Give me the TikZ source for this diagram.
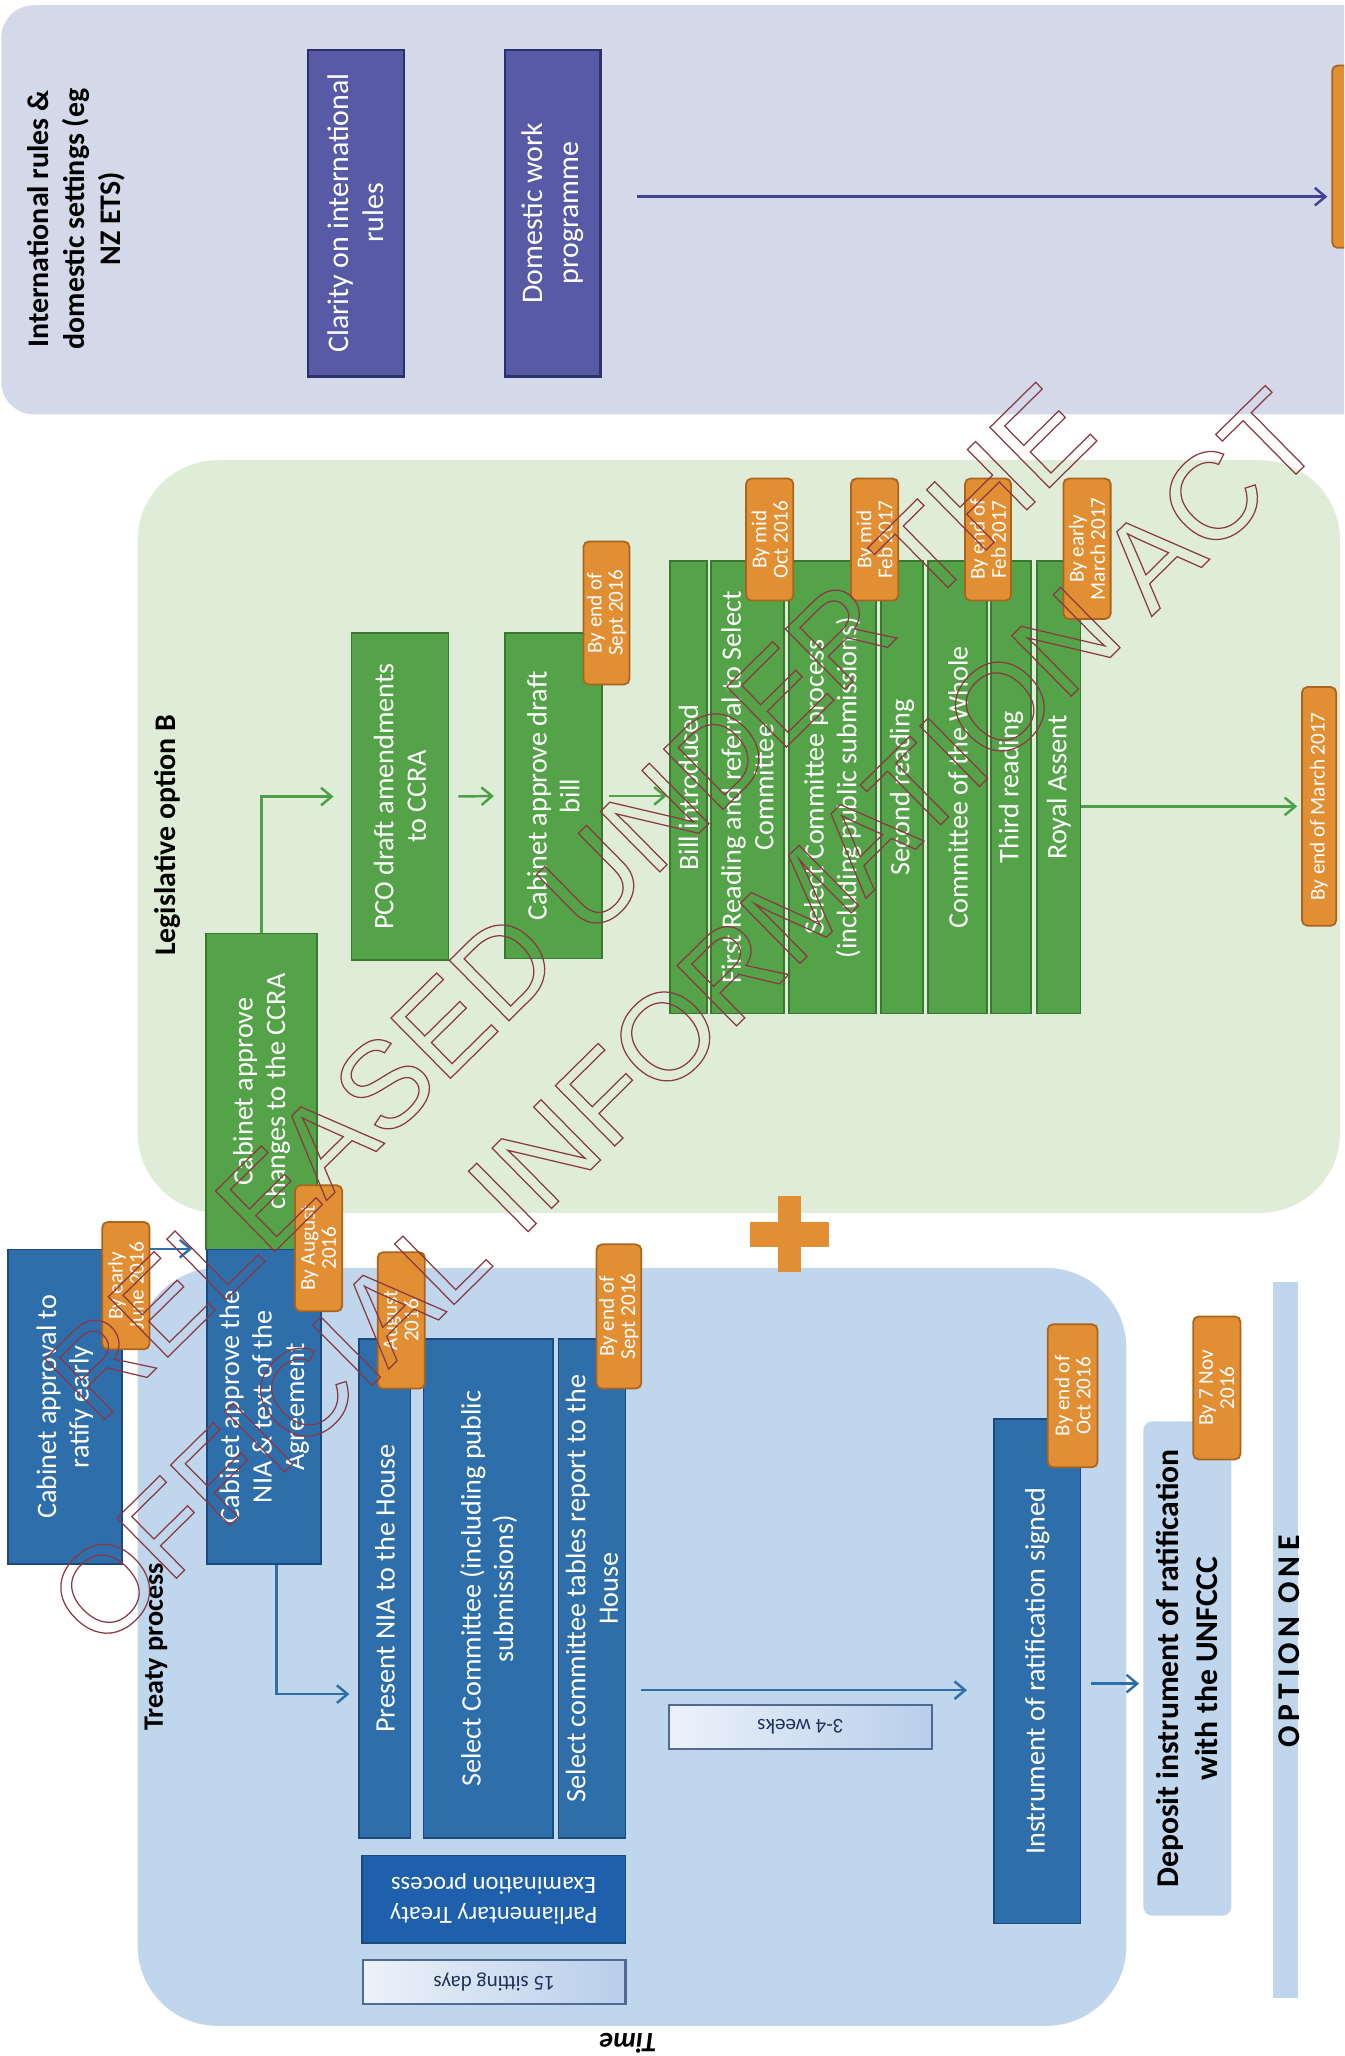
\documentclass[tikz,border=0pt]{standalone}
\usepackage{fontspec}
\setmainfont{Carlito}
\newfontfamily\stampfont{Liberation Sans}
\usetikzlibrary{arrows.meta}

\definecolor{PanelGrey}{RGB}{211,217,233}
\definecolor{PanelGreen}{RGB}{223,237,216}
\definecolor{PanelBlue}{RGB}{191,214,236}
\definecolor{BoxPurple}{RGB}{88,90,166}
\definecolor{EdgePurple}{RGB}{45,48,110}
\definecolor{ArrowPurple}{RGB}{66,66,150}
\definecolor{BoxGreen}{RGB}{84,163,72}
\definecolor{EdgeGreen}{RGB}{56,120,48}
\definecolor{ArrowGreen}{RGB}{76,160,69}
\definecolor{BoxBlue}{RGB}{46,110,170}
\definecolor{EdgeBlue}{RGB}{28,74,124}
\definecolor{DeepBlue}{RGB}{30,96,172}
\definecolor{TagOrange}{RGB}{226,143,52}
\definecolor{EdgeOrange}{RGB}{170,100,30}
\definecolor{StampRed}{RGB}{140,55,68}
\definecolor{NoteEdge}{RGB}{80,106,148}
\definecolor{NoteText}{RGB}{30,50,90}
\definecolor{NoteLight}{RGB}{236,242,250}
\definecolor{NoteDark}{RGB}{184,206,234}

\newcommand{\pxu}{0.0262cm}
\newcommand{\boxtext}{\fontsize{16}{18.5}\selectfont}
\newcommand{\tagtext}{\fontsize{12}{12}\selectfont}

\tikzset{
  boxsize/.style 2 args={minimum width=#1*\pxu, minimum height=#2*\pxu},
  stepbox/.style={rotate=90, align=center, inner sep=0pt, text=white, font=\boxtext, line width=1pt},
  bluestep/.style={stepbox, fill=BoxBlue, draw=EdgeBlue},
  greenstep/.style={stepbox, fill=BoxGreen, draw=EdgeGreen},
  purplestep/.style={stepbox, fill=BoxPurple, draw=EdgePurple, line width=1.4pt, font=\fontsize{17}{20}\selectfont},
  datetag/.style={rotate=90, align=center, inner sep=0pt, fill=TagOrange, draw=EdgeOrange, line width=1pt, rounded corners=3pt, text=white, font=\tagtext},
  notebox/.style={rotate=180, inner sep=0pt, draw=NoteEdge, line width=1.2pt, left color=NoteLight, right color=NoteDark, text=NoteText, font=\fontsize{12}{14}\selectfont},
  heading/.style={rotate=90, align=center, inner sep=0pt},
  flow/.style={line width=1.4pt, -{Straight Barb[length=6pt,width=10pt]}},
}

\begin{document}
\begin{tikzpicture}[x=0.0262cm, y=-0.0262cm]
  \useasboundingbox (0,0) rectangle (1025,1568);
  \clip (0,0) rectangle (1025,1568);

  % Panels
  \fill[PanelGrey, rounded corners=0.65cm] (1,4) rectangle (1080,316);
  \fill[PanelGreen, rounded corners=1.6cm] (105,351) rectangle (1022,925);
  \fill[PanelBlue, rounded corners=1.6cm] (105,967) rectangle (859,1545);

  % International rules
  \node[heading, font=\bfseries\fontsize{17}{20.5}\selectfont] (intl) at (58,167) {International rules \&\\domestic settings (eg\\NZ ETS)};
  \node[purplestep, boxsize={249}{73}] (clar) at (271.5,162.5) {Clarity on international\\rules};
  \node[purplestep, boxsize={249}{73}] (dwp) at (421.5,162.5) {Domestic work\\programme};
  \node[datetag, boxsize={139}{30}] (nextstep) at (1031,119.5) {};
  \draw[flow, ArrowPurple, shorten <=0.7cm, shorten >=0.08cm] (dwp.south |- 0,150) -- (nextstep.north |- 0,150);

  % Legislative option B
  \node[heading, font=\bfseries\fontsize{17}{20}\selectfont] (legb) at (128,637) {Legislative option B};
  \node[greenstep, boxsize={241}{85}] (ccra) at (199.5,832.5) {Cabinet approve\\changes to the CCRA};
  \node[greenstep, boxsize={249}{74}] (pco) at (305,607.5) {PCO draft amendments\\to CCRA};
  \node[greenstep, boxsize={248}{74}] (cdb) at (422,607) {Cabinet approve draft\\bill};
  \node[greenstep, boxsize={345}{28}] (bill) at (525,600.5) {Bill introduced};
  \node[greenstep, boxsize={345}{56}] (frst) at (570,600.5) {First Reading and referral to Select\\Committee};
  \node[greenstep, boxsize={345}{66}] (scp) at (635,600.5) {Select Committee process\\(including public submissions)};
  \node[greenstep, boxsize={345}{32}] (scnd) at (688,600.5) {Second reading};
  \node[greenstep, boxsize={345}{45}] (cotw) at (730.5,600.5) {Committee of the Whole};
  \node[greenstep, boxsize={345}{30}] (thrd) at (771,600.5) {Third reading};
  \node[greenstep, boxsize={345}{33}] (rass) at (807.5,600.5) {Royal Assent};

  \draw[flow, ArrowGreen, shorten >=0.34cm] (ccra.east) |- (pco.north);
  \draw[flow, ArrowGreen, shorten <=0.18cm, shorten >=0.2cm] (pco.south) -- (cdb.north);
  \draw[flow, ArrowGreen, shorten <=0.13cm, shorten >=0.05cm] (cdb.south) -- (cdb.south -| bill.north);

  \node[datetag, boxsize={109}{35}] (tsep1) at (462.5,467.5) {By end of\\Sept 2016};
  \node[datetag, boxsize={93}{36}] (toct1) at (587,411.5) {By mid\\Oct 2016};
  \node[datetag, boxsize={93}{36}] (tfeb1) at (667,411.5) {By mid\\Feb 2017};
  \node[datetag, boxsize={93}{35}] (tfeb2) at (753.5,411.5) {By end of\\Feb 2017};
  \node[datetag, boxsize={107}{36}] (tmar1) at (829,418.5) {By early\\March 2017};
  \node[datetag, boxsize={182}{26}] (tmar2) at (1006,615) {By end of March 2017};
  \draw[flow, ArrowGreen, shorten >=0.08cm] (rass.south |- tmar2.north) -- (tmar2.north);

  % Treaty process
  \node[heading, font=\bfseries\fontsize{16}{19}\selectfont] (trty) at (119,1256) {Treaty process};
  \node[bluestep, boxsize={240}{87}] (capr) at (49.5,1073) {Cabinet approval to\\ratify early};
  \node[bluestep, boxsize={240}{87}] (cnia) at (201.5,1073) {Cabinet approve the\\NIA \& text of the\\Agreement};
  \node[bluestep, boxsize={381}{39}] (pnia) at (293.5,1211.5) {Present NIA to the House};
  \node[bluestep, boxsize={381}{99}] (selc) at (372.5,1211.5) {Select Committee (including public\\submissions)};
  \node[bluestep, boxsize={381}{51}] (tabl) at (451.5,1211.5) {Select committee tables report to the\\House};
  \node[bluestep, boxsize={385}{66}] (inst) at (791,1274.5) {Instrument of ratification signed};
  \node[heading, fill=PanelBlue, rounded corners=5pt, boxsize={377}{67}, font=\bfseries\fontsize{18}{22}\selectfont] (depo) at (905.5,1272.5) {Deposit instrument of ratification\\with the UNFCCC};
  \node[rotate=180, align=center, inner sep=0pt, fill=DeepBlue, draw=EdgeBlue, line width=1pt, text=white, boxsize={201}{67}, font=\fontsize{14}{17}\selectfont] (ptep) at (376.5,1448.5) {Parliamentary Treaty\\Examination process};
  \node[notebox, boxsize={200}{33}] (days) at (377,1511.5) {15 sitting days};
  \node[notebox, boxsize={201}{34}] (wks) at (610.5,1317) {3-4 weeks};

  \node[datetag, boxsize={97}{36}] (tjun) at (96,980.5) {By early\\June 2016};
  \node[datetag, boxsize={96}{36}] (taug1) at (243,952) {By August\\2016};
  \node[datetag, boxsize={104}{36}] (taug2) at (306,1007) {August\\2016};
  \node[datetag, boxsize={110}{34}] (tsep2) at (472,1004) {By end of\\Sept 2016};
  \node[datetag, boxsize={109}{38}] (toct2) at (818,1064.5) {By end of\\Oct 2016};
  \node[datetag, boxsize={109}{36}] (tnov) at (928,1058.5) {By 7 Nov\\2016};

  \draw[flow, BoxBlue, shorten >=0.28cm] (tjun.south |- cnia.north east) -- (cnia.north east);
  \draw[flow, BoxBlue, shorten >=0.18cm] ([xshift=0.25cm]cnia.west) |- (pnia.north |- 0,1292);
  \draw[flow, BoxBlue, shorten <=0.29cm, shorten >=0.52cm] (tabl.south |- 0,1289) -- (inst.north |- 0,1289);
  \draw[flow, BoxBlue, shorten <=0.2cm, shorten >=0.08cm] (inst.south |- 0,1284) -- (depo.north |- 0,1284);

  % Option one
  \fill[PanelBlue] (971,978) rectangle (990,1524);
  \node[heading, font=\bfseries\fontsize{18}{20}\selectfont\addfontfeatures{LetterSpace=17}] (opt) at (983,1252) {OPTION ONE};

  % Plus
  \fill[TagOrange] (572,932) rectangle (632,951);
  \fill[TagOrange] (593,912) rectangle (611,970);

  \node[rotate=180, font=\bfseries\itshape\fontsize{16}{19}\selectfont] (time) at (479,1558) {Time};

  % Stamp
  \node[rotate=44.6, align=center, inner sep=0pt, text=StampRed, font=\stampfont\fontsize{70}{93}\selectfont] (stamp) at (478,732) {\special{pdf:literal direct 1 Tr 0.7 w}RELEASED UNDER THE\\OFFICIAL INFORMATION ACT\special{pdf:literal direct 0 Tr}};
\end{tikzpicture}
\end{document}
